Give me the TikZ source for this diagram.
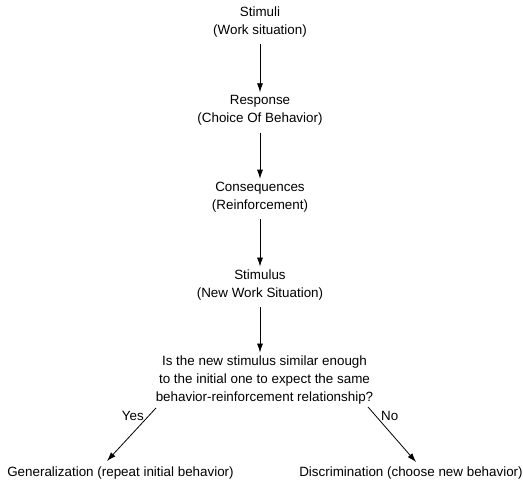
\documentclass[tikz,border=0pt]{standalone}
\usepackage{fontspec}
\setmainfont{Liberation Sans}
\usetikzlibrary{arrows.meta}
\begin{document}
\begin{tikzpicture}[x=1pt,y=-1pt,
  lbl/.style={align=center,inner sep=0pt,font=\fontsize{13.4}{18}\selectfont},
  conn/.style={-{Latex[length=9pt,width=6pt]},line width=0.8pt}]
\useasboundingbox[fill=white] (0,0) rectangle (523,496);
\node[lbl] (stim) at (260,22) {Stimuli\\(Work situation)};
\node[lbl] (resp) at (260,110.5) {Response\\(Choice Of Behavior)};
\node[lbl] (cons) at (260,197) {Consequences\\(Reinforcement)};
\node[lbl] (snew) at (260,285) {Stimulus\\(New Work Situation)};
\node[lbl] (q) at (264.5,380) {Is the new stimulus similar enough\\to the initial one to expect the same\\behavior-reinforcement relationship?};
\node[lbl] (gen) at (120.5,473) {Generalization (repeat initial behavior)};
\node[lbl] (disc) at (411,473) {Discrimination (choose new behavior)};
\coordinate (ys) at (156,408);
\coordinate (ye) at (107,461);
\coordinate (ns) at (368,407);
\coordinate (ne) at (416,462);
\draw[conn,shorten <=7pt,shorten >=3pt] (stim) -- (resp);
\draw[conn,shorten <=7pt,shorten >=3pt] (resp) -- (cons);
\draw[conn,shorten <=7pt,shorten >=3pt] (cons) -- (snew);
\draw[conn,shorten <=7pt,shorten >=3pt] (snew.south) -- (snew.south |- q.north);
\draw[conn] (ys) -- (ye);
\draw[conn] (ns) -- (ne);
\node[lbl,anchor=east] (yes) at (144,416) {Yes};
\node[lbl,anchor=west] (no) at (381,416) {No};
\end{tikzpicture}
\end{document}
